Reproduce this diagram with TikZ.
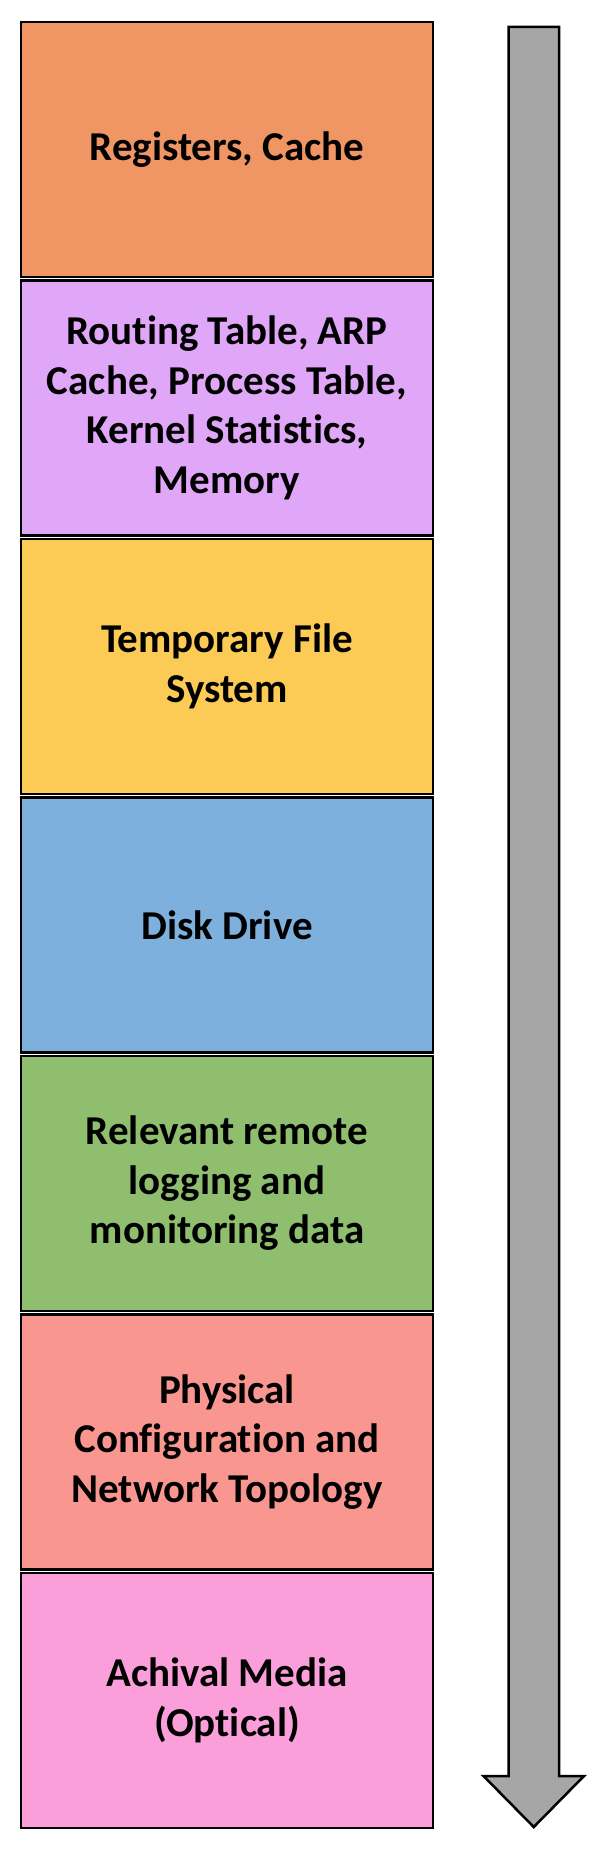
\documentclass[tikz,border=0pt]{standalone}
\usepackage{fontspec}
\setmainfont{Carlito}[Ligatures=NoCommon]
\definecolor{regcol}{HTML}{F09664}
\definecolor{memcol}{HTML}{E0A6F8}
\definecolor{tmpcol}{HTML}{FCCB55}
\definecolor{diskcol}{HTML}{7EB0DE}
\definecolor{logcol}{HTML}{8EBE6E}
\definecolor{physcol}{HTML}{FA9690}
\definecolor{archcol}{HTML}{FB9FDB}
\definecolor{arrowcol}{HTML}{A6A6A6}
\tikzset{
	layerbox/.style={draw=black, line width=2.5pt, minimum width=412pt, minimum height=255pt,
		align=center, inner sep=0pt, font=\bfseries\fontsize{41}{49.5}\selectfont}
}
\begin{document}
\begin{tikzpicture}[x=1pt, y=1pt]
	\useasboundingbox (0, 0) rectangle (606, -1852);
	% volatility layers, most volatile on top
	\node[layerbox, fill=regcol] (box1) at (227, -149.5){Registers, Cache};
	\node[layerbox, fill=memcol] (box2) at (227, -408){Routing Table, ARP\\Cache, Process Table,\\Kernel Statistics,\\Memory};
	\node[layerbox, fill=tmpcol] (box3) at (227, -666.5){Temporary File\\System};
	\node[layerbox, fill=diskcol] (box4) at (227, -925){Disk Drive};
	\node[layerbox, fill=logcol] (box5) at (227, -1183.5){Relevant remote\\logging and\\monitoring data};
	\node[layerbox, fill=physcol] (box6) at (227, -1442){Physical\\Configuration and\\Network Topology};
	\node[layerbox, fill=archcol] (box7) at (227, -1700.5){Achival Media\\(Optical)};
	% big down arrow
	\path[draw=black, fill=arrowcol, line width=2.5pt, line join=miter]
		(508.5, -27) -- (559, -27) -- (559, -1776) -- (584, -1776) -- (533.75, -1827)
		-- (483.5, -1776) -- (508.5, -1776) -- cycle;
\end{tikzpicture}
\end{document}
